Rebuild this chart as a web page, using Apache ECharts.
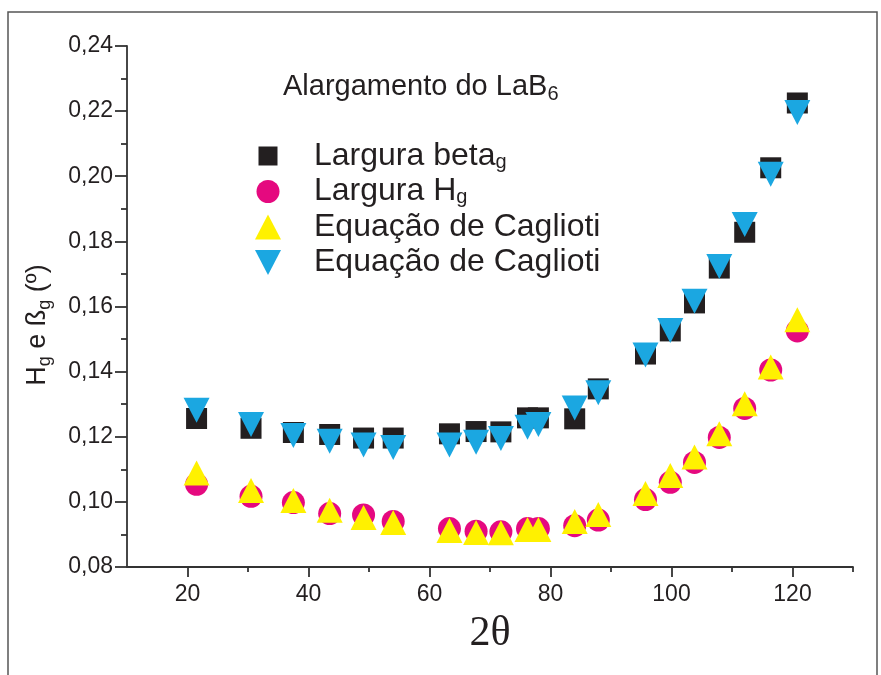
<!DOCTYPE html>
<html>
<head>
<meta charset="utf-8">
<script src="https://cdn.jsdelivr.net/npm/echarts@6/dist/echarts.min.js"></script>
<style>
  html, body { margin: 0; padding: 0; background: #fff; }
  #chart { width: 881px; height: 675px; }
</style>
</head>
<body>
<div id="chart"></div>
<script>
// posição dos picos (2θ)
var twoTheta = [21.5, 30.5, 37.5, 43.5, 49.1, 54.0, 63.3, 67.7, 71.8, 76.2, 78.0, 84.0, 87.9, 95.7, 99.8, 103.8, 107.9, 112.1, 116.4, 120.8];
// largura beta_g (quadrados pretos)
var betaG = [0.1256, 0.1226, 0.1213, 0.1207, 0.1196, 0.1196, 0.1209, 0.1216, 0.1215, 0.1258, 0.1258, 0.1255, 0.1347, 0.1454, 0.1525, 0.1611, 0.1718, 0.1828, 0.2026, 0.2225];
// largura H_g (círculos)
var hG = [0.1054, 0.1017, 0.0998, 0.0964, 0.0960, 0.0940, 0.0918, 0.0910, 0.0908, 0.0918, 0.0918, 0.0927, 0.0944, 0.1007, 0.1060, 0.1121, 0.1198, 0.1287, 0.1405, 0.1525];
// Caglioti (triângulos amarelos)
var cagliotiH = [0.1089, 0.1035, 0.1004, 0.0974, 0.0952, 0.0937, 0.0912, 0.0906, 0.0905, 0.0915, 0.0915, 0.0940, 0.0961, 0.1026, 0.1081, 0.1138, 0.1209, 0.1301, 0.1414, 0.1559];
// Caglioti (triângulos azuis)
var cagliotiBeta = [0.1281, 0.1238, 0.1204, 0.1186, 0.1175, 0.1167, 0.1175, 0.1183, 0.1195, 0.1229, 0.1238, 0.1288, 0.1335, 0.1451, 0.1526, 0.1616, 0.1723, 0.1852, 0.2006, 0.2196];

var xMajor = [20, 40, 60, 80, 100, 120];
var xMinor = [30, 50, 70, 90, 110, 130];

var legendLabels = {
  beta: 'Largura beta{s|g}',
  h: 'Largura H{s|g}',
  cag1: 'Equação de Caglioti',
  cag2: 'Equação de Caglioti'
};

function pts(ys) {
  return twoTheta.map(function (x, i) { return [x, ys[i]]; });
}

var chart = echarts.init(document.getElementById('chart'));
var font = 'Liberation Sans';
var ink = '#231f20';
var axisInk = '#333';

chart.setOption({
  animation: false,
  backgroundColor: '#fff',
  textStyle: { fontFamily: font },
  grid: { left: 127, right: 28, top: 46, bottom: 108, containLabel: false },
  graphic: [
    {
      type: 'rect',
      shape: { x: 8, y: 12, width: 869, height: 700 },
      style: { fill: 'none', stroke: '#555', lineWidth: 1.5 },
      silent: true
    },
    {
      type: 'text',
      left: 283,
      top: 70,
      style: {
        text: 'Alargamento do LaB{s|6}',
        fontFamily: font,
        fontSize: 29,
        lineHeight: 34,
        fill: ink,
        rich: {
          s: { fontSize: 20, fontFamily: font, fill: ink, verticalAlign: 'bottom', lineHeight: 34 }
        }
      }
    },
    {
      // rótulo do eixo y
      type: 'text',
      x: 38,
      y: 325,
      rotation: Math.PI / 2,
      style: {
        text: 'H{s|g} e ß{s|g} (º)',
        fontFamily: font,
        fontSize: 27,
        lineHeight: 32,
        fill: ink,
        align: 'center',
        verticalAlign: 'middle',
        rich: {
          s: { fontSize: 18, fontFamily: font, fill: ink, verticalAlign: 'bottom', lineHeight: 32 }
        }
      }
    }
  ],
  legend: {
    orient: 'vertical',
    left: 250,
    top: 135,
    itemWidth: 26,
    itemHeight: 25,
    itemGap: 3.5,
    data: [
      { name: 'beta', icon: 'path://M0,0M26,25M3.5,3L22.5,3L22.5,22L3.5,22Z' },
      { name: 'h', icon: 'path://M0,0M26,25M24.5,12.5A11.5,11.5,0,1,1,1.5,12.5A11.5,11.5,0,1,1,24.5,12.5Z' },
      { name: 'cag1', icon: 'path://M13,0L26,25L0,25Z' },
      { name: 'cag2', icon: 'path://M0,0L26,0L13,25Z' }
    ],
    formatter: function (name) { return '{sp|}' + legendLabels[name]; },
    textStyle: {
      fontFamily: font,
      fontSize: 32,
      lineHeight: 32,
      color: ink,
      rich: {
        sp: { width: 28 },
        s: { fontSize: 20, fontFamily: font, color: ink, verticalAlign: 'bottom', lineHeight: 32 }
      }
    }
  },
  xAxis: [
    {
      type: 'value',
      min: 10,
      max: 130,
      interval: 10,
      name: '2θ',
      nameLocation: 'middle',
      nameGap: 46,
      nameTextStyle: { fontFamily: 'Liberation Serif', fontSize: 42, color: ink },
      splitLine: { show: false },
      axisLine: { lineStyle: { color: axisInk, width: 1.8 } },
      axisTick: { length: 10, customValues: xMajor, lineStyle: { color: axisInk, width: 1.8 } },
      axisLabel: { customValues: xMajor, fontSize: 23, color: ink, margin: 16 }
    },
    {
      type: 'value',
      position: 'bottom',
      min: 10,
      max: 130,
      interval: 10,
      splitLine: { show: false },
      axisLine: { show: false },
      axisTick: { length: 5, customValues: xMinor, lineStyle: { color: axisInk, width: 1.8 } },
      axisLabel: { show: false }
    }
  ],
  yAxis: {
    type: 'value',
    min: 0.08,
    max: 0.24,
    interval: 0.02,
    splitLine: { show: false },
    axisLine: { show: true, lineStyle: { color: axisInk, width: 1.8 } },
    axisTick: { show: true, length: 12, lineStyle: { color: axisInk, width: 1.8 } },
    minorTick: { show: true, splitNumber: 2, length: 6, lineStyle: { color: axisInk, width: 1.8 } },
    axisLabel: {
      fontSize: 23,
      color: ink,
      margin: 14,
      formatter: function (v) { return v.toFixed(2).replace('.', ','); }
    }
  },
  series: [
    {
      name: 'beta', type: 'scatter', symbol: 'rect', symbolSize: 21,
      itemStyle: { color: ink, opacity: 1 }, data: pts(betaG)
    },
    {
      name: 'h', type: 'scatter', symbol: 'circle', symbolSize: 23,
      itemStyle: { color: '#e5097f', opacity: 1 }, data: pts(hG)
    },
    {
      name: 'cag1', type: 'scatter', symbol: 'triangle', symbolSize: [26, 25],
      itemStyle: { color: '#fff100', opacity: 1 }, data: pts(cagliotiH)
    },
    {
      name: 'cag2', type: 'scatter', symbol: 'triangle', symbolSize: [26, 25], symbolRotate: 180,
      itemStyle: { color: '#1ba7e1', opacity: 1 }, data: pts(cagliotiBeta)
    }
  ]
});
</script>
</body>
</html>
